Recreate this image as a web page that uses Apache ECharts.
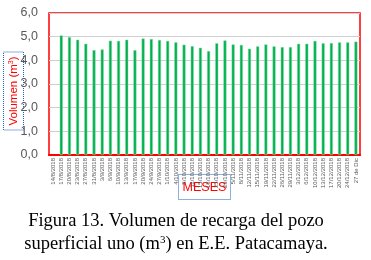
<!DOCTYPE html>
<html><head><meta charset="utf-8">
<script src="https://cdn.jsdelivr.net/npm/echarts@6/dist/echarts.min.js"></script>
<style>html,body{margin:0;padding:0;background:#fff}#c{width:371px;height:260px}</style>
</head><body><div id="c"></div>
<script>
const categories = ["14/8/2018","17/8/2018","20/8/2018","23/8/2018","27/8/2018","31/8/2018","3/9/2018","6/9/2018","10/9/2018","13/9/2018","17/9/2018","20/9/2018","24/9/2018","27/9/2018","1/10/2018","4/10/2018","8/10/2018","11/10/2018","15/10/2018","18/10/2018","25/10/2018","29/10/2018","5/11/2018","8/11/2018","12/11/2018","15/11/2018","19/11/2018","22/11/2018","26/11/2018","29/11/2018","3/12/2018","6/12/2018","10/12/2018","13/12/2018","17/12/2018","20/12/2018","24/12/2018","27 de Dic"];
const volumen = [null,5.05,4.98,4.87,4.70,4.43,4.46,4.83,4.82,4.87,4.43,4.92,4.90,4.86,4.82,4.76,4.66,4.60,4.53,4.39,4.72,4.84,4.67,4.65,4.49,4.59,4.67,4.59,4.56,4.56,4.70,4.70,4.82,4.72,4.73,4.76,4.76,4.79];
const yTicks = [0,1,2,3,4,5,6];

const chart = echarts.init(document.getElementById('c'), null, {renderer:'canvas'});
chart.setOption({
  animation:false,
  grid:{left:49,right:11,top:13,bottom:105,show:true,borderColor:'#ff0000',borderWidth:1.5,containLabel:false},
  xAxis:{type:'category',data:categories,
    axisLine:{show:true,lineStyle:{color:'#ff0000',width:2}},
    axisTick:{show:false},
    axisLabel:{rotate:90,interval:0,fontSize:6,color:'#595959',fontFamily:'Liberation Sans',margin:3}},
  yAxis:{type:'value',min:yTicks[0],max:yTicks[yTicks.length-1],interval:1,
    axisLine:{show:false},axisTick:{show:false},
    splitLine:{lineStyle:{color:'#d0d0d0',width:1}},
    axisLabel:{fontSize:12.5,color:'#595959',fontFamily:'Liberation Sans',margin:11,
      formatter:v=>v.toFixed(1).replace('.',',')}},
  series:[{type:'bar',data:volumen,barWidth:3,
    itemStyle:{color:'#00b050',borderColor:'#7fd9a0',borderWidth:0.5}}],
  graphic:[
    {type:'rect',shape:{x:3.5,y:52,width:20,height:78},style:{fill:'none',stroke:'#1f5fbf',lineWidth:1,lineDash:[1,1]}},
    {type:'text',x:14,y:91,rotation:Math.PI/2,style:{text:'{a|Volumen (m}{s|3}{a|)}',align:'center',verticalAlign:'middle',
      rich:{a:{fontSize:11.5,fill:'#ff0000',fontFamily:'Liberation Sans'},s:{fontSize:7,fill:'#ff0000',verticalAlign:'top',fontFamily:'Liberation Sans'}}}},
    {type:'rect',shape:{x:178.5,y:174.5,width:52,height:25},style:{fill:'none',stroke:'#1f5fbf',lineWidth:1,lineDash:[1,1]}},
    {type:'text',x:204.5,y:188,style:{text:'MESES',align:'center',verticalAlign:'middle',fontSize:12.5,fill:'#ff0000',fontFamily:'Liberation Sans'}},
    {type:'text',x:176,y:221,style:{text:'Figura 13. Volumen de recarga del pozo',align:'center',verticalAlign:'middle',fontSize:18.5,fill:'#000',fontFamily:'Liberation Serif'}},
    {type:'text',x:176,y:244,style:{text:'{a|superficial uno (m}{s|3}{a|) en E.E. Patacamaya.}',align:'center',verticalAlign:'middle',
      rich:{a:{fontSize:18.5,fill:'#000',fontFamily:'Liberation Serif'},s:{fontSize:11,fill:'#000',fontFamily:'Liberation Serif',verticalAlign:'top',padding:[0,0,8,0]}}}}
  ]
});
</script></body></html>
